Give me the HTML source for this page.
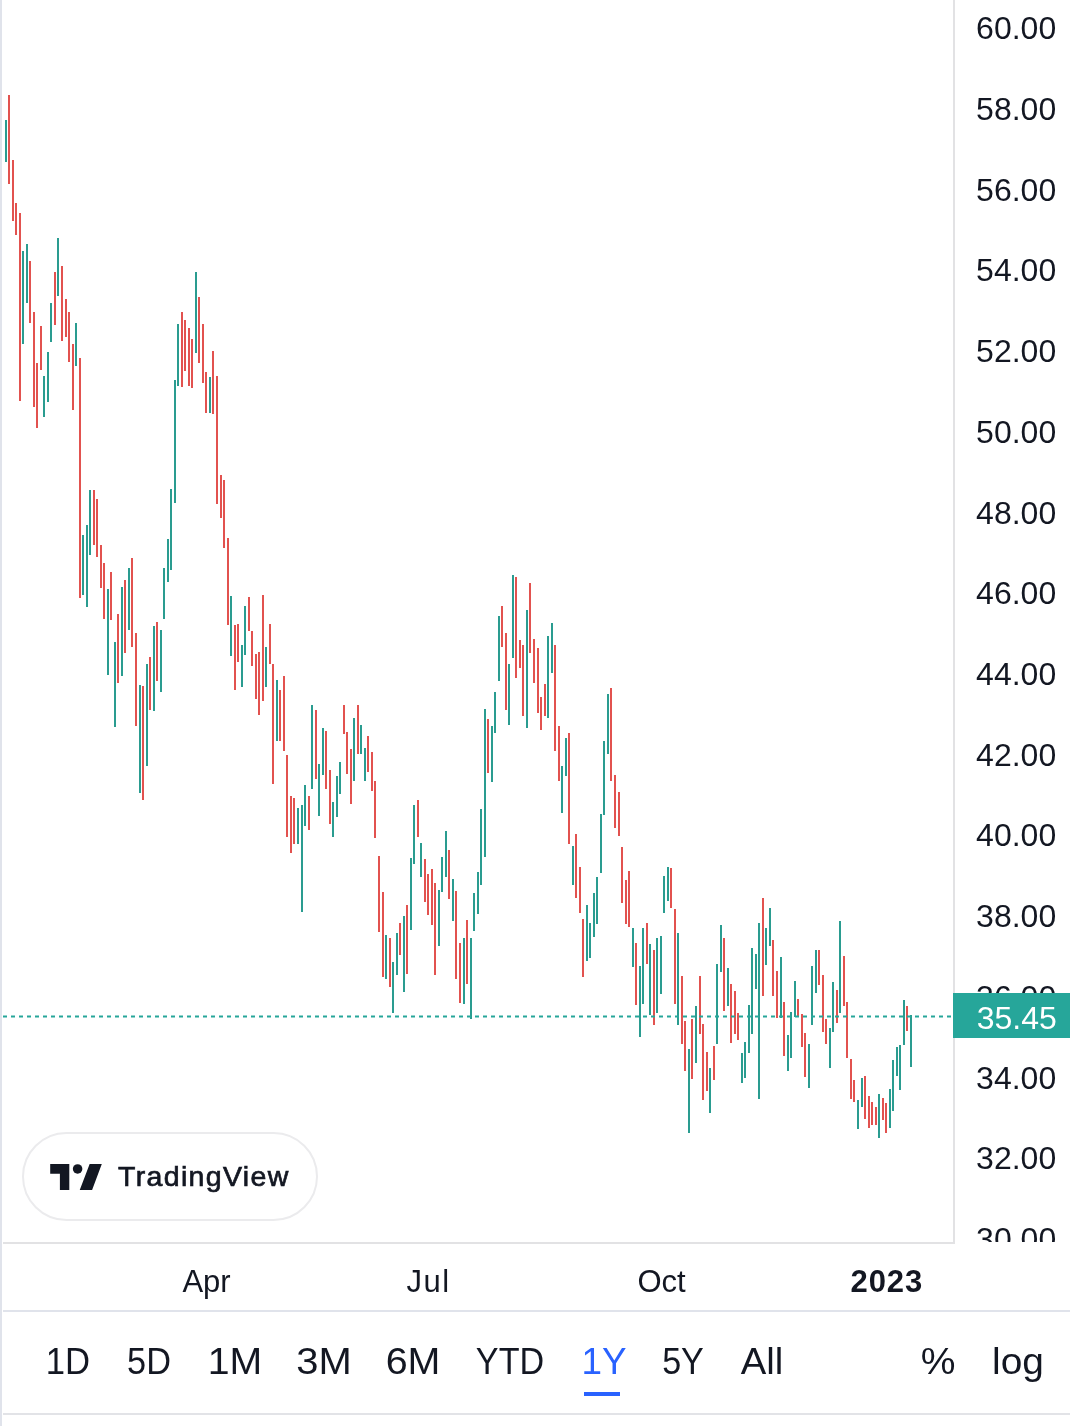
<!DOCTYPE html>
<html><head><meta charset="utf-8"><title>TradingView chart</title>
<style>
html,body{margin:0;padding:0;background:#fff;}
body{width:1070px;height:1426px;position:relative;overflow:hidden;font-family:"Liberation Sans",Arial,sans-serif;color:#131722;}
.abs{position:absolute;}
#lb{left:0;top:0;width:1.9px;height:1426px;background:#e0e3eb;}
#chart{left:0;top:0;width:955px;height:1242px;}
#axisv{left:953.2px;top:0;width:1.9px;height:1243.6px;background:#e2e2e4;}
#axish{left:3px;top:1241.7px;width:952.1px;height:1.9px;background:#e2e2e4;}
#paxis{left:955px;top:0;width:115px;height:1241.7px;overflow:hidden;}
.pl{position:absolute;left:21.1px;font-size:32px;line-height:36px;height:36px;white-space:nowrap;letter-spacing:0px;}
#plabel{left:953.1px;top:992.6px;width:117px;height:45.6px;background:#26a69a;color:#fff;font-size:32px;line-height:45.5px;}
#plabel span{position:absolute;left:23.6px;top:3.6px;}
.tl{position:absolute;top:1264px;font-size:31px;line-height:36px;white-space:nowrap;transform:translateX(-50%);}
#sep1{left:3px;top:1309.8px;width:1067px;height:1.9px;background:#e0e3eb;}
#sep2{left:3px;top:1412.9px;width:1067px;height:1.9px;background:#e2e3e7;}
.rb{position:absolute;top:1341.2px;font-size:36.3px;line-height:42px;white-space:nowrap;transform:translateX(-50%) scaleX(var(--k));}
#ul{left:583.6px;top:1391.9px;width:36.5px;height:4.6px;background:#2962ff;}
#logo{left:21.5px;top:1131.5px;width:292px;height:85px;border:2px solid #ebebed;border-radius:46px;background:#fff;}
#logotext{left:118px;top:1158px;font-size:28.5px;line-height:36px;letter-spacing:1.35px;-webkit-text-stroke:0.7px #131722;white-space:nowrap;}
</style></head><body>
<div id="chart" class="abs">
<svg width="955" height="1242" viewBox="0 0 955 1242" shape-rendering="crispEdges">
<rect x="5" y="120.3" width="2" height="41.5" fill="#2a9c90"/>
<rect x="8" y="95.4" width="2" height="88.5" fill="#e2524f"/>
<rect x="12" y="160.1" width="2" height="60.7" fill="#e2524f"/>
<rect x="15" y="203.2" width="2" height="31.7" fill="#e2524f"/>
<rect x="19" y="213.3" width="2" height="187.6" fill="#e2524f"/>
<rect x="22" y="251.3" width="2" height="92.4" fill="#2a9c90"/>
<rect x="26" y="244.4" width="2" height="58.4" fill="#2a9c90"/>
<rect x="29" y="261.3" width="2" height="61.6" fill="#e2524f"/>
<rect x="33" y="311.5" width="2" height="95.0" fill="#e2524f"/>
<rect x="36" y="362.5" width="2" height="65.5" fill="#e2524f"/>
<rect x="40" y="326.4" width="2" height="43.2" fill="#e2524f"/>
<rect x="43" y="375.6" width="2" height="41.2" fill="#2a9c90"/>
<rect x="47" y="351.6" width="2" height="50.2" fill="#2a9c90"/>
<rect x="50" y="303.4" width="2" height="38.8" fill="#2a9c90"/>
<rect x="54" y="272.1" width="2" height="52.7" fill="#e2524f"/>
<rect x="57" y="238.4" width="2" height="57.5" fill="#2a9c90"/>
<rect x="61" y="266.3" width="2" height="74.4" fill="#e2524f"/>
<rect x="65" y="299.3" width="2" height="37.6" fill="#e2524f"/>
<rect x="68" y="312.2" width="2" height="49.7" fill="#e2524f"/>
<rect x="72" y="344.0" width="2" height="66.2" fill="#e2524f"/>
<rect x="75" y="322.5" width="2" height="43.2" fill="#2a9c90"/>
<rect x="79" y="358.4" width="2" height="240.0" fill="#e2524f"/>
<rect x="82" y="534.8" width="2" height="59.7" fill="#2a9c90"/>
<rect x="86" y="524.5" width="2" height="82.7" fill="#2a9c90"/>
<rect x="89" y="490.4" width="2" height="64.6" fill="#2a9c90"/>
<rect x="93" y="490.4" width="2" height="54.6" fill="#e2524f"/>
<rect x="96" y="498.6" width="2" height="58.6" fill="#e2524f"/>
<rect x="100" y="544.5" width="2" height="43.6" fill="#e2524f"/>
<rect x="103" y="562.5" width="2" height="56.5" fill="#e2524f"/>
<rect x="107" y="588.5" width="2" height="86.7" fill="#2a9c90"/>
<rect x="110" y="571.8" width="2" height="48.2" fill="#e2524f"/>
<rect x="114" y="641.5" width="2" height="85.8" fill="#2a9c90"/>
<rect x="117" y="613.8" width="2" height="68.9" fill="#e2524f"/>
<rect x="121" y="586.6" width="2" height="89.5" fill="#2a9c90"/>
<rect x="124" y="579.7" width="2" height="73.4" fill="#e2524f"/>
<rect x="128" y="567.5" width="2" height="62.4" fill="#2a9c90"/>
<rect x="131" y="557.6" width="2" height="89.5" fill="#e2524f"/>
<rect x="135" y="632.7" width="2" height="93.6" fill="#e2524f"/>
<rect x="139" y="684.8" width="2" height="108.4" fill="#2a9c90"/>
<rect x="142" y="686.4" width="2" height="113.9" fill="#e2524f"/>
<rect x="146" y="663.6" width="2" height="102.8" fill="#2a9c90"/>
<rect x="149" y="656.5" width="2" height="53.7" fill="#e2524f"/>
<rect x="153" y="625.6" width="2" height="85.6" fill="#2a9c90"/>
<rect x="156" y="621.5" width="2" height="59.7" fill="#e2524f"/>
<rect x="160" y="630.3" width="2" height="61.8" fill="#2a9c90"/>
<rect x="163" y="567.5" width="2" height="51.5" fill="#2a9c90"/>
<rect x="167" y="538.5" width="2" height="43.6" fill="#2a9c90"/>
<rect x="170" y="488.5" width="2" height="81.5" fill="#2a9c90"/>
<rect x="174" y="379.7" width="2" height="123.2" fill="#2a9c90"/>
<rect x="177" y="324.4" width="2" height="61.1" fill="#2a9c90"/>
<rect x="181" y="312.4" width="2" height="74.4" fill="#e2524f"/>
<rect x="184" y="320.3" width="2" height="50.6" fill="#e2524f"/>
<rect x="188" y="328.3" width="2" height="57.2" fill="#e2524f"/>
<rect x="191" y="338.5" width="2" height="49.7" fill="#e2524f"/>
<rect x="195" y="271.5" width="2" height="81.2" fill="#2a9c90"/>
<rect x="198" y="297.3" width="2" height="65.4" fill="#e2524f"/>
<rect x="202" y="324.2" width="2" height="58.8" fill="#e2524f"/>
<rect x="205" y="372.4" width="2" height="40.6" fill="#e2524f"/>
<rect x="209" y="376.5" width="2" height="36.5" fill="#2a9c90"/>
<rect x="212" y="351.4" width="2" height="62.7" fill="#e2524f"/>
<rect x="216" y="375.5" width="2" height="128.5" fill="#e2524f"/>
<rect x="220" y="475.4" width="2" height="42.6" fill="#e2524f"/>
<rect x="223" y="479.5" width="2" height="68.6" fill="#e2524f"/>
<rect x="227" y="538.4" width="2" height="86.8" fill="#e2524f"/>
<rect x="230" y="596.4" width="2" height="59.7" fill="#2a9c90"/>
<rect x="234" y="624.5" width="2" height="65.9" fill="#e2524f"/>
<rect x="237" y="623.6" width="2" height="38.7" fill="#e2524f"/>
<rect x="241" y="644.5" width="2" height="42.5" fill="#2a9c90"/>
<rect x="244" y="606.1" width="2" height="48.7" fill="#2a9c90"/>
<rect x="248" y="597.3" width="2" height="33.7" fill="#e2524f"/>
<rect x="251" y="630.5" width="2" height="35.9" fill="#e2524f"/>
<rect x="255" y="653.5" width="2" height="45.7" fill="#e2524f"/>
<rect x="258" y="652.4" width="2" height="62.9" fill="#e2524f"/>
<rect x="262" y="594.5" width="2" height="106.8" fill="#e2524f"/>
<rect x="265" y="646.8" width="2" height="40.2" fill="#2a9c90"/>
<rect x="269" y="623.6" width="2" height="40.6" fill="#e2524f"/>
<rect x="272" y="663.6" width="2" height="120.4" fill="#e2524f"/>
<rect x="276" y="679.6" width="2" height="61.0" fill="#2a9c90"/>
<rect x="279" y="689.5" width="2" height="51.5" fill="#e2524f"/>
<rect x="283" y="675.8" width="2" height="75.5" fill="#e2524f"/>
<rect x="286" y="754.5" width="2" height="82.4" fill="#e2524f"/>
<rect x="290" y="795.7" width="2" height="57.3" fill="#e2524f"/>
<rect x="293" y="798.1" width="2" height="46.2" fill="#e2524f"/>
<rect x="297" y="808.0" width="2" height="36.3" fill="#2a9c90"/>
<rect x="301" y="804.6" width="2" height="107.7" fill="#2a9c90"/>
<rect x="304" y="784.6" width="2" height="41.2" fill="#2a9c90"/>
<rect x="308" y="795.7" width="2" height="34.6" fill="#e2524f"/>
<rect x="311" y="704.8" width="2" height="84.3" fill="#2a9c90"/>
<rect x="315" y="709.5" width="2" height="69.9" fill="#e2524f"/>
<rect x="318" y="764.4" width="2" height="51.5" fill="#2a9c90"/>
<rect x="322" y="728.4" width="2" height="46.3" fill="#2a9c90"/>
<rect x="325" y="730.7" width="2" height="58.0" fill="#e2524f"/>
<rect x="329" y="770.4" width="2" height="53.9" fill="#e2524f"/>
<rect x="332" y="801.8" width="2" height="35.1" fill="#2a9c90"/>
<rect x="336" y="775.6" width="2" height="41.2" fill="#2a9c90"/>
<rect x="339" y="761.6" width="2" height="32.2" fill="#2a9c90"/>
<rect x="343" y="705.4" width="2" height="29.0" fill="#e2524f"/>
<rect x="346" y="731.6" width="2" height="42.4" fill="#e2524f"/>
<rect x="350" y="749.4" width="2" height="54.7" fill="#e2524f"/>
<rect x="353" y="717.6" width="2" height="63.3" fill="#2a9c90"/>
<rect x="357" y="705.4" width="2" height="48.7" fill="#e2524f"/>
<rect x="360" y="724.5" width="2" height="29.6" fill="#2a9c90"/>
<rect x="364" y="747.5" width="2" height="33.4" fill="#2a9c90"/>
<rect x="367" y="736.3" width="2" height="35.6" fill="#e2524f"/>
<rect x="371" y="751.6" width="2" height="39.4" fill="#e2524f"/>
<rect x="374" y="781.4" width="2" height="57.0" fill="#e2524f"/>
<rect x="378" y="855.6" width="2" height="76.8" fill="#e2524f"/>
<rect x="382" y="891.8" width="2" height="85.5" fill="#e2524f"/>
<rect x="385" y="934.8" width="2" height="44.2" fill="#2a9c90"/>
<rect x="389" y="937.8" width="2" height="48.7" fill="#e2524f"/>
<rect x="392" y="961.9" width="2" height="50.6" fill="#2a9c90"/>
<rect x="396" y="932.7" width="2" height="42.7" fill="#2a9c90"/>
<rect x="399" y="923.0" width="2" height="32.2" fill="#e2524f"/>
<rect x="403" y="915.8" width="2" height="75.9" fill="#2a9c90"/>
<rect x="406" y="904.6" width="2" height="68.9" fill="#e2524f"/>
<rect x="410" y="857.8" width="2" height="72.3" fill="#2a9c90"/>
<rect x="413" y="804.5" width="2" height="59.8" fill="#2a9c90"/>
<rect x="417" y="799.7" width="2" height="37.5" fill="#e2524f"/>
<rect x="420" y="842.8" width="2" height="34.3" fill="#2a9c90"/>
<rect x="424" y="858.7" width="2" height="43.7" fill="#e2524f"/>
<rect x="427" y="873.9" width="2" height="41.0" fill="#e2524f"/>
<rect x="431" y="868.7" width="2" height="56.1" fill="#e2524f"/>
<rect x="434" y="882.7" width="2" height="92.7" fill="#e2524f"/>
<rect x="438" y="889.8" width="2" height="56.6" fill="#2a9c90"/>
<rect x="441" y="856.5" width="2" height="35.6" fill="#2a9c90"/>
<rect x="445" y="830.6" width="2" height="46.5" fill="#2a9c90"/>
<rect x="448" y="849.9" width="2" height="49.3" fill="#e2524f"/>
<rect x="452" y="878.6" width="2" height="42.5" fill="#2a9c90"/>
<rect x="455" y="891.1" width="2" height="88.0" fill="#e2524f"/>
<rect x="459" y="942.6" width="2" height="60.5" fill="#e2524f"/>
<rect x="463" y="937.9" width="2" height="66.5" fill="#2a9c90"/>
<rect x="466" y="919.8" width="2" height="64.4" fill="#e2524f"/>
<rect x="470" y="937.9" width="2" height="80.6" fill="#2a9c90"/>
<rect x="473" y="893.0" width="2" height="38.4" fill="#2a9c90"/>
<rect x="477" y="871.5" width="2" height="42.5" fill="#2a9c90"/>
<rect x="480" y="808.6" width="2" height="76.5" fill="#2a9c90"/>
<rect x="484" y="709.4" width="2" height="147.5" fill="#2a9c90"/>
<rect x="487" y="718.6" width="2" height="54.3" fill="#e2524f"/>
<rect x="491" y="725.7" width="2" height="56.6" fill="#2a9c90"/>
<rect x="494" y="691.6" width="2" height="41.2" fill="#2a9c90"/>
<rect x="498" y="615.6" width="2" height="65.6" fill="#2a9c90"/>
<rect x="501" y="606.4" width="2" height="40.7" fill="#e2524f"/>
<rect x="505" y="632.5" width="2" height="77.7" fill="#e2524f"/>
<rect x="508" y="663.6" width="2" height="61.8" fill="#2a9c90"/>
<rect x="512" y="575.4" width="2" height="82.5" fill="#2a9c90"/>
<rect x="515" y="576.5" width="2" height="101.5" fill="#e2524f"/>
<rect x="519" y="639.6" width="2" height="28.5" fill="#e2524f"/>
<rect x="522" y="644.6" width="2" height="71.8" fill="#e2524f"/>
<rect x="526" y="609.6" width="2" height="118.6" fill="#2a9c90"/>
<rect x="529" y="583.4" width="2" height="69.7" fill="#e2524f"/>
<rect x="533" y="638.7" width="2" height="44.3" fill="#e2524f"/>
<rect x="537" y="647.5" width="2" height="65.7" fill="#e2524f"/>
<rect x="540" y="696.7" width="2" height="33.3" fill="#e2524f"/>
<rect x="544" y="683.6" width="2" height="32.4" fill="#e2524f"/>
<rect x="547" y="636.4" width="2" height="81.8" fill="#2a9c90"/>
<rect x="551" y="622.7" width="2" height="50.2" fill="#2a9c90"/>
<rect x="554" y="644.6" width="2" height="106.4" fill="#e2524f"/>
<rect x="558" y="726.3" width="2" height="54.7" fill="#e2524f"/>
<rect x="561" y="765.6" width="2" height="47.5" fill="#2a9c90"/>
<rect x="565" y="737.5" width="2" height="38.4" fill="#2a9c90"/>
<rect x="568" y="732.7" width="2" height="111.6" fill="#e2524f"/>
<rect x="572" y="845.7" width="2" height="39.6" fill="#2a9c90"/>
<rect x="575" y="833.6" width="2" height="64.5" fill="#e2524f"/>
<rect x="579" y="866.7" width="2" height="46.3" fill="#e2524f"/>
<rect x="582" y="918.7" width="2" height="58.4" fill="#e2524f"/>
<rect x="586" y="904.6" width="2" height="56.6" fill="#2a9c90"/>
<rect x="589" y="923.0" width="2" height="34.8" fill="#2a9c90"/>
<rect x="593" y="892.6" width="2" height="44.4" fill="#2a9c90"/>
<rect x="596" y="876.6" width="2" height="47.5" fill="#2a9c90"/>
<rect x="600" y="813.5" width="2" height="59.4" fill="#2a9c90"/>
<rect x="603" y="741.4" width="2" height="73.4" fill="#2a9c90"/>
<rect x="607" y="694.4" width="2" height="59.6" fill="#2a9c90"/>
<rect x="610" y="688.4" width="2" height="92.7" fill="#e2524f"/>
<rect x="614" y="774.6" width="2" height="53.7" fill="#e2524f"/>
<rect x="618" y="791.8" width="2" height="44.2" fill="#e2524f"/>
<rect x="621" y="846.7" width="2" height="56.1" fill="#e2524f"/>
<rect x="625" y="880.4" width="2" height="44.0" fill="#e2524f"/>
<rect x="628" y="870.6" width="2" height="56.6" fill="#e2524f"/>
<rect x="632" y="927.9" width="2" height="38.9" fill="#2a9c90"/>
<rect x="635" y="942.8" width="2" height="62.0" fill="#e2524f"/>
<rect x="639" y="965.8" width="2" height="71.2" fill="#2a9c90"/>
<rect x="642" y="927.9" width="2" height="75.8" fill="#2a9c90"/>
<rect x="646" y="922.6" width="2" height="41.4" fill="#e2524f"/>
<rect x="649" y="943.9" width="2" height="70.6" fill="#2a9c90"/>
<rect x="653" y="949.9" width="2" height="74.9" fill="#e2524f"/>
<rect x="656" y="938.0" width="2" height="74.7" fill="#2a9c90"/>
<rect x="660" y="935.8" width="2" height="58.1" fill="#2a9c90"/>
<rect x="663" y="875.7" width="2" height="37.3" fill="#2a9c90"/>
<rect x="667" y="866.7" width="2" height="34.4" fill="#2a9c90"/>
<rect x="670" y="867.8" width="2" height="40.5" fill="#e2524f"/>
<rect x="674" y="908.6" width="2" height="95.1" fill="#e2524f"/>
<rect x="677" y="933.0" width="2" height="91.8" fill="#2a9c90"/>
<rect x="681" y="976.1" width="2" height="68.0" fill="#e2524f"/>
<rect x="684" y="1021.1" width="2" height="50.0" fill="#e2524f"/>
<rect x="688" y="1048.8" width="2" height="84.3" fill="#2a9c90"/>
<rect x="691" y="1019.2" width="2" height="59.9" fill="#e2524f"/>
<rect x="695" y="1006.1" width="2" height="56.7" fill="#2a9c90"/>
<rect x="699" y="976.1" width="2" height="57.7" fill="#e2524f"/>
<rect x="702" y="1024.3" width="2" height="76.0" fill="#e2524f"/>
<rect x="706" y="1052.0" width="2" height="38.9" fill="#e2524f"/>
<rect x="709" y="1067.9" width="2" height="45.3" fill="#2a9c90"/>
<rect x="713" y="1046.0" width="2" height="34.4" fill="#e2524f"/>
<rect x="716" y="964.0" width="2" height="80.1" fill="#2a9c90"/>
<rect x="720" y="924.5" width="2" height="47.3" fill="#2a9c90"/>
<rect x="723" y="938.0" width="2" height="73.2" fill="#e2524f"/>
<rect x="727" y="968.1" width="2" height="38.0" fill="#2a9c90"/>
<rect x="730" y="984.2" width="2" height="58.8" fill="#e2524f"/>
<rect x="734" y="991.1" width="2" height="43.1" fill="#e2524f"/>
<rect x="737" y="1012.7" width="2" height="27.1" fill="#e2524f"/>
<rect x="741" y="1052.9" width="2" height="30.4" fill="#2a9c90"/>
<rect x="744" y="1042.1" width="2" height="36.1" fill="#2a9c90"/>
<rect x="748" y="1005.2" width="2" height="48.1" fill="#2a9c90"/>
<rect x="751" y="948.1" width="2" height="85.7" fill="#2a9c90"/>
<rect x="755" y="954.2" width="2" height="35.1" fill="#2a9c90"/>
<rect x="758" y="922.7" width="2" height="176.5" fill="#2a9c90"/>
<rect x="762" y="897.8" width="2" height="98.3" fill="#e2524f"/>
<rect x="765" y="928.0" width="2" height="37.0" fill="#2a9c90"/>
<rect x="769" y="907.7" width="2" height="38.1" fill="#2a9c90"/>
<rect x="772" y="939.9" width="2" height="56.2" fill="#e2524f"/>
<rect x="776" y="970.8" width="2" height="46.8" fill="#e2524f"/>
<rect x="780" y="956.8" width="2" height="60.8" fill="#2a9c90"/>
<rect x="783" y="1002.1" width="2" height="53.9" fill="#e2524f"/>
<rect x="787" y="1035.1" width="2" height="35.9" fill="#2a9c90"/>
<rect x="790" y="1012.0" width="2" height="45.9" fill="#2a9c90"/>
<rect x="794" y="981.1" width="2" height="35.6" fill="#2a9c90"/>
<rect x="797" y="998.9" width="2" height="17.8" fill="#e2524f"/>
<rect x="801" y="1013.9" width="2" height="32.8" fill="#e2524f"/>
<rect x="804" y="1033.2" width="2" height="43.8" fill="#e2524f"/>
<rect x="808" y="1044.2" width="2" height="44.0" fill="#2a9c90"/>
<rect x="811" y="966.1" width="2" height="58.7" fill="#2a9c90"/>
<rect x="815" y="949.9" width="2" height="43.0" fill="#2a9c90"/>
<rect x="818" y="949.9" width="2" height="35.3" fill="#e2524f"/>
<rect x="822" y="975.1" width="2" height="56.6" fill="#e2524f"/>
<rect x="825" y="1019.0" width="2" height="25.2" fill="#e2524f"/>
<rect x="829" y="1027.9" width="2" height="39.9" fill="#2a9c90"/>
<rect x="832" y="982.1" width="2" height="49.6" fill="#2a9c90"/>
<rect x="836" y="990.1" width="2" height="33.2" fill="#e2524f"/>
<rect x="839" y="920.6" width="2" height="92.4" fill="#2a9c90"/>
<rect x="843" y="955.8" width="2" height="50.0" fill="#e2524f"/>
<rect x="846" y="1002.1" width="2" height="55.8" fill="#e2524f"/>
<rect x="850" y="1059.2" width="2" height="39.5" fill="#e2524f"/>
<rect x="853" y="1080.4" width="2" height="21.5" fill="#e2524f"/>
<rect x="857" y="1100.0" width="2" height="29.1" fill="#2a9c90"/>
<rect x="861" y="1077.9" width="2" height="29.1" fill="#2a9c90"/>
<rect x="864" y="1076.1" width="2" height="43.0" fill="#e2524f"/>
<rect x="868" y="1095.9" width="2" height="32.2" fill="#e2524f"/>
<rect x="871" y="1101.9" width="2" height="23.0" fill="#e2524f"/>
<rect x="875" y="1107.0" width="2" height="17.9" fill="#e2524f"/>
<rect x="878" y="1093.9" width="2" height="44.2" fill="#2a9c90"/>
<rect x="882" y="1097.8" width="2" height="21.9" fill="#e2524f"/>
<rect x="885" y="1102.8" width="2" height="30.0" fill="#e2524f"/>
<rect x="889" y="1088.8" width="2" height="39.3" fill="#2a9c90"/>
<rect x="892" y="1060.1" width="2" height="51.2" fill="#2a9c90"/>
<rect x="896" y="1047.0" width="2" height="29.1" fill="#2a9c90"/>
<rect x="899" y="1044.8" width="2" height="45.3" fill="#2a9c90"/>
<rect x="903" y="999.9" width="2" height="44.9" fill="#2a9c90"/>
<rect x="906" y="1005.8" width="2" height="24.9" fill="#e2524f"/>
<rect x="910" y="1014.8" width="2" height="52.1" fill="#2a9c90"/>
<line x1="3" y1="1016.6" x2="953.4" y2="1016.6" stroke="#26a69a" stroke-width="2" stroke-dasharray="4 4" shape-rendering="auto"/>
</svg>
</div>
<div id="lb" class="abs"></div>
<div id="axisv" class="abs"></div>
<div id="axish" class="abs"></div>
<div id="paxis" class="abs"><div class="pl" style="top:10px">60.00</div><div class="pl" style="top:91px">58.00</div><div class="pl" style="top:172px">56.00</div><div class="pl" style="top:252px">54.00</div><div class="pl" style="top:333px">52.00</div><div class="pl" style="top:414px">50.00</div><div class="pl" style="top:495px">48.00</div><div class="pl" style="top:575px">46.00</div><div class="pl" style="top:656px">44.00</div><div class="pl" style="top:737px">42.00</div><div class="pl" style="top:817px">40.00</div><div class="pl" style="top:898px">38.00</div><div class="pl" style="top:979px">36.00</div><div class="pl" style="top:1060px">34.00</div><div class="pl" style="top:1140px">32.00</div><div class="pl" style="top:1221px">30.00</div></div>
<div id="plabel" class="abs"><span>35.45</span></div>
<div class="tl" style="left:206.5px">Apr</div>
<div class="tl" style="left:428.6px;letter-spacing:1.5px">Jul</div>
<div class="tl" style="left:661.5px">Oct</div>
<div class="tl" style="left:886.8px;font-weight:bold;letter-spacing:0.9px">2023</div>
<div id="sep1" class="abs"></div>
<div class="rb" style="left:67.95px;--k:0.955">1D</div>
<div class="rb" style="left:149.15px;--k:0.945">5D</div>
<div class="rb" style="left:235.1px;--k:1.08">1M</div>
<div class="rb" style="left:323.9px;--k:1.1">3M</div>
<div class="rb" style="left:413.0px;--k:1.085">6M</div>
<div class="rb" style="left:509.8px;--k:0.94">YTD</div>
<div class="rb" style="left:604.0px;color:#2962ff;--k:1.015">1Y</div>
<div class="rb" style="left:683.4px;--k:0.94">5Y</div>
<div class="rb" style="left:762.2px;--k:1.055">All</div>
<div class="rb" style="left:937.55px;--k:1.075">%</div>
<div class="rb" style="left:1018.0px;--k:1.07">log</div>
<div id="ul" class="abs"></div>
<div id="sep2" class="abs"></div>
<div id="logo" class="abs"></div>
<svg class="abs" style="left:40px;top:1155px" width="80" height="45" viewBox="40 1155 80 45"><path fill="#131722" d="M50.2 1164.1H69.3V1190.1H59.9V1173.7H50.2ZM89.65 1164.1H101.8L92.1 1190.1H79.75Z"/><circle fill="#131722" cx="77.6" cy="1168.9" r="4.75"/></svg>
<div id="logotext" class="abs">TradingView</div>
</body></html>
